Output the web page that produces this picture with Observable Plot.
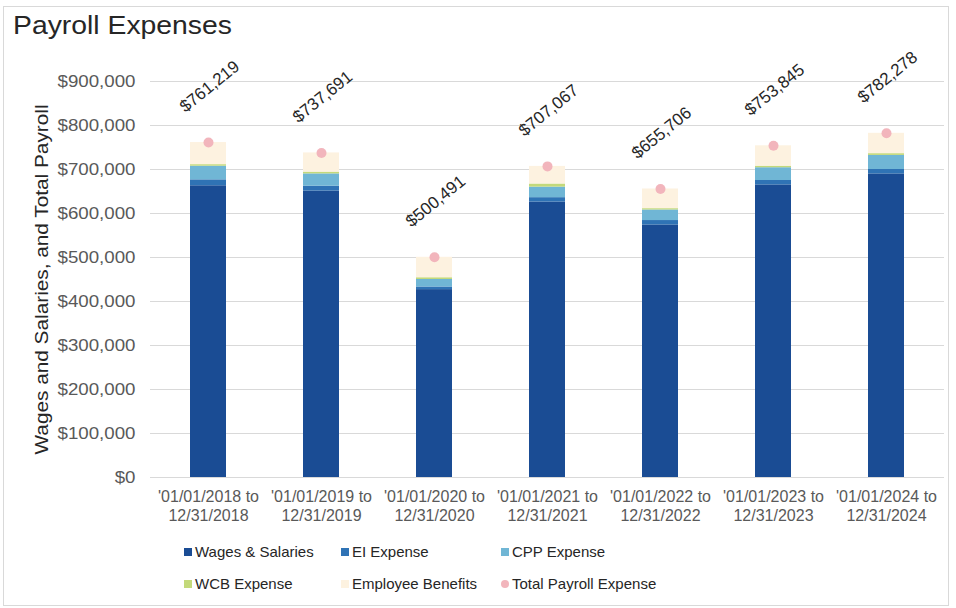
<!DOCTYPE html>
<html>
<head>
<meta charset="utf-8">
<script src="https://cdn.jsdelivr.net/npm/d3@7"></script>
<script src="https://cdn.jsdelivr.net/npm/@observablehq/plot@0.6"></script>
<style>
  html, body { margin: 0; padding: 0; background: #fff; }
  body { width: 956px; height: 608px; position: relative; overflow: hidden; font-family: "Liberation Sans", Arial, sans-serif; }
  #frame { position: absolute; left: 3px; top: 6px; width: 946px; height: 600px; border: 1px solid #d9d9d9; box-sizing: border-box; }
  #title { position: absolute; left: 13px; top: 10px; font-size: 26px; color: #262626; transform: scaleX(1.09); transform-origin: left center; white-space: nowrap; }
  #chart { position: absolute; left: 0; top: 40px; }
  .leg { position: absolute; font-size: 15px; color: #262626; display: flex; align-items: center; white-space: nowrap; }
  .sw { width: 8px; height: 8px; margin-right: 3px; display: inline-block; }
</style>
</head>
<body>
<div id="frame"></div>
<div id="title">Payroll Expenses</div>
<div id="chart"></div>
<div id="legend"></div>
<script>
const categories = [
  "'01/01/2018 to 12/31/2018",
  "'01/01/2019 to 12/31/2019",
  "'01/01/2020 to 12/31/2020",
  "'01/01/2021 to 12/31/2021",
  "'01/01/2022 to 12/31/2022",
  "'01/01/2023 to 12/31/2023",
  "'01/01/2024 to 12/31/2024"
];
const seriesNames = ["Wages & Salaries", "EI Expense", "CPP Expense", "WCB Expense", "Employee Benefits"];
const wages    = [663000, 651000, 427000, 626000, 574000, 665000, 690000];
const eiExp    = [13500, 11000, 6000, 10000, 10000, 10000, 10000];
const cppExp   = [31000, 28000, 17000, 24000, 24000, 29000, 32000];
const wcbExp   = [3500, 4000, 4000, 7000, 3000, 3500, 4000];
const benefits = [50219, 43691, 46491, 40067, 44706, 46345, 46278];
const totals   = [761219, 737691, 500491, 707067, 655706, 753845, 782278];
const totalLabel = "Total Payroll Expense";
const yLabel = "Wages and Salaries, and Total Payroll";
const colors = ["#1a4c94", "#2f73b5", "#70b6d5", "#c3d97a", "#fdf2e0"];
const dotColor = "#f2b5bc";
const yTicks = [0, 100000, 200000, 300000, 400000, 500000, 600000, 700000, 800000, 900000];

const seriesValues = [wages, eiExp, cppExp, wcbExp, benefits];
const rows = [];
seriesNames.forEach((s, si) => {
  categories.forEach((c, ci) => rows.push({category: c, series: s, value: seriesValues[si][ci]}));
});
const totalRows = categories.map((c, i) => ({category: c, total: totals[i]}));

const fmt = d3.format("$,.0f");

const plot = Plot.plot({
  width: 956,
  height: 490,
  marginTop: 41,
  marginBottom: 53,
  marginLeft: 150,
  marginRight: 12,
  style: {fontFamily: "'Liberation Sans', Arial, sans-serif", background: "transparent"},
  x: {domain: categories, paddingInner: 0.68, paddingOuter: 0.34, label: null},
  y: {domain: [0, 900000], label: null},
  color: {domain: seriesNames, range: colors},
  marks: [
    Plot.gridY(yTicks, {stroke: "#d9d9d9", strokeOpacity: 1, strokeWidth: 1}),
    Plot.axisY(yTicks, {tickSize: 0, tickPadding: 15, tickFormat: fmt, fontSize: 17, fill: "#595959", label: null}),
    Plot.text([yLabel], {
      frameAnchor: "left", dx: -108, rotate: -90, fontSize: 18, fill: "#262626", textAnchor: "middle",
      ariaLabel: "ylabel"
    }),
    Plot.axisX({tickSize: 0, tickPadding: 11, fontSize: 16, fill: "#595959", lineHeight: 1.18,
      tickFormat: d => d.replace(" to ", " to\n"), label: null}),
    Plot.barY(rows, {x: "category", y: "value", fill: "series", order: seriesNames}),
    Plot.dot(totalRows, {x: "category", y: "total", r: 5, fill: dotColor, stroke: "none"}),
    Plot.text(totalRows, {x: "category", y: "total", text: d => fmt(d.total), rotate: -39, dy: -56, dx: 1,
      fontSize: 17, fill: "#262626", textAnchor: "middle", ariaLabel: "datalabel"})
  ]
});
document.getElementById("chart").appendChild(plot);

function stretch(selector, factor) {
  plot.querySelectorAll(selector).forEach(t => {
    const L = t.getComputedTextLength();
    if (L > 0) {
      t.setAttribute("textLength", (L * factor).toFixed(1));
      t.setAttribute("lengthAdjust", "spacingAndGlyphs");
    }
  });
}
stretch('g[aria-label="y-axis tick label"] text', 1.1);
stretch('g[aria-label="datalabel"] text', 1.12);
// y-axis title: stretch to the length it has in the reference
const yl = Array.from(plot.querySelectorAll("text")).find(t => t.textContent === yLabel);
if (yl) {
  yl.setAttribute("textLength", "350");
  yl.setAttribute("lengthAdjust", "spacingAndGlyphs");
}

const legendItems = [
  {label: seriesNames[0], color: colors[0], x: 184, y: 553, round: false},
  {label: seriesNames[1], color: colors[1], x: 341, y: 553, round: false},
  {label: seriesNames[2], color: colors[2], x: 501, y: 553, round: false},
  {label: seriesNames[3], color: colors[3], x: 184, y: 585, round: false},
  {label: seriesNames[4], color: colors[4], x: 341, y: 585, round: false},
  {label: totalLabel, color: dotColor, x: 501, y: 585, round: true}
];
const leg = document.getElementById("legend");
legendItems.forEach(it => {
  const d = document.createElement("div");
  d.className = "leg";
  d.style.left = it.x + "px";
  d.style.top = (it.y - 10) + "px";
  const s = document.createElement("span");
  s.className = "sw";
  s.style.background = it.color;
  if (it.round) s.style.borderRadius = "50%";
  d.appendChild(s);
  d.appendChild(document.createTextNode(it.label));
  leg.appendChild(d);
});
</script>
</body>
</html>
